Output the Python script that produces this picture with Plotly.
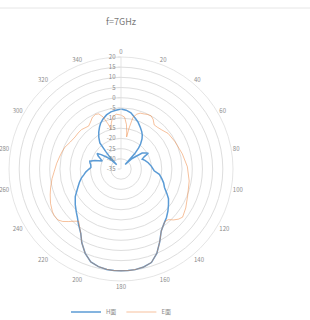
import plotly.graph_objects as go

# ---- data (degrees, dB) ----
angle_ticks = list(range(0, 360, 20))
radial_ticks = [20, 15, 10, 5, 0, -5, -10, -15, -20, -25, -30, -35]

h_theta = [0, 5, 10, 16, 20, 25, 29, 32, 35, 38, 40, 42, 43, 44, 46, 49, 53, 57, 60, 62, 65,
           70, 77, 85, 93, 98, 103, 108, 113, 118, 122, 127, 132, 137, 142, 147, 152, 157,
           162, 167, 172, 176, 180, 184, 188, 193, 198, 203, 208, 212, 218, 222, 226, 232,
           239, 247, 252, 257, 261, 265, 269, 273, 278, 281, 284, 288, 293, 297, 300, 303,
           306, 310, 313, 315, 317, 319, 321, 325, 329, 333, 336, 340, 345, 350, 355, 360]
h_vals = [-5.5, -6, -7, -9.2, -10.5, -12.5, -14, -15.3, -17, -19.4, -21.5, -25, -32, -31, -28,
          -26, -22, -20.5, -19.5, -22, -23.5, -22.5, -21.3, -20, -18.7, -16, -14.5, -13, -11.8,
          -9.5, -7.5, -5.8, -4, -2.3, -0.8, 1.3, 5.5, 10, 13.3, 14.4, 14.9, 15, 15, 15, 14.8,
          14.2, 13, 10, 6, 2.3, -1, -3, -4.5, -6.5, -8.8, -12, -13.5, -15, -16.5, -17.6, -19,
          -20.2, -20, -19.5, -19.2, -21.5, -25, -23.5, -22, -21, -23, -26, -29, -32, -27,
          -23.5, -18.5, -16, -13.8, -11.8, -10.4, -9, -7.5, -6.5, -6, -5.5]

e_theta = [0, 4, 7, 9, 10, 11, 13, 16, 19, 22.5, 26, 29.5, 33, 37, 41, 46, 53, 63, 76, 88, 100,
           112, 121, 128, 131, 134, 137, 140, 142, 147, 152, 157, 162, 167, 172, 176, 180, 184,
           188, 193, 198, 203, 208, 212, 216, 219, 222, 225, 228, 231, 235, 238, 244, 250, 255,
           262, 268, 275, 281, 286, 291, 298, 305, 310, 315, 320, 323, 327, 331, 335, 338, 341,
           344, 346, 348, 351, 355, 360]
e_vals = [-8.5, -9.5, -13, -17, -19, -15, -9, -7, -6, -5.7, -5.2, -5, -6, -7.9, -7.8, -7.3, -6,
          -5.3, -4, -2.4, -1, 0.3, 2.1, 3.4, 2.5, 1, -1, -1.4, -0.8, 1.3, 5.5, 10, 13.3, 14.4,
          14.9, 15, 15, 15, 14.8, 14.2, 13, 10, 6, 2.3, -0.3, -2, -0.5, 1.5, 3.5, 4.8, 5, 4.7,
          3.5, 2, 0.8, -0.8, -2.2, -3.3, -4.2, -4.8, -5.4, -6.8, -7.5, -7.5, -7.6, -8.3, -8.6,
          -7.5, -6, -5.4, -5.8, -8, -12, -15, -12, -9, -8, -8.5]

series_names = ["H面", "E面"]
title_text = "f=7GHz"

FONT = "Noto Sans CJK SC, Noto Sans, sans-serif"
GRID = "#dedede"
TXT = "#8c8c8c"

fig = go.Figure()
fig.add_trace(go.Scatterpolar(r=h_vals, theta=h_theta, mode="lines", name=series_names[0],
                              line=dict(color="#5b9bd5", width=1.5)))
fig.add_trace(go.Scatterpolar(r=e_vals, theta=e_theta, mode="lines", name=series_names[1],
                              line=dict(color="rgba(237,125,49,0.6)", width=0.8)))

CX, CY, RAD = 121, 169, 112  # px in a 310x320 figure
fig.update_layout(
    width=310, height=320,
    margin=dict(l=0, r=0, t=0, b=0, autoexpand=False),
    paper_bgcolor="white",
    font=dict(family=FONT, size=6, color=TXT),
    title=dict(text=title_text, x=CX / 310, xanchor="center", y=1 - 22 / 320, yanchor="middle",
               font=dict(family=FONT, size=9, color="#7a7a7a")),
    showlegend=True,
    legend=dict(orientation="h", x=CX / 310, xanchor="center", y=1 - 312 / 320, yanchor="middle",
                font=dict(family=FONT, size=6, color=TXT), itemwidth=30,
                bgcolor="rgba(0,0,0,0)"),
    polar=dict(
        domain=dict(x=[(CX - RAD) / 310, (CX + RAD) / 310],
                    y=[(320 - CY - RAD) / 320, (320 - CY + RAD) / 320]),
        bgcolor="white",
        radialaxis=dict(range=[-35, 20], tickvals=radial_ticks,
                        ticktext=[str(v) for v in radial_ticks],
                        angle=90, side="counterclockwise", tickangle=90,
                        showgrid=True, gridcolor=GRID, gridwidth=0.8,
                        showline=True, linecolor=GRID, linewidth=0.8,
                        ticks="outside", ticklen=3, tickcolor=GRID,
                        tickfont=dict(family=FONT, size=6, color=TXT)),
        angularaxis=dict(rotation=90, direction="clockwise", tickmode="array",
                         tickvals=angle_ticks, ticktext=[str(a) for a in angle_ticks],
                         showgrid=False, showline=True, linecolor=GRID, linewidth=0.8,
                         ticks="", tickfont=dict(family=FONT, size=6, color=TXT)),
    ),
    shapes=[dict(type="line", xref="paper", yref="paper", x0=0, x1=1,
                 y0=1 - 8 / 320, y1=1 - 8 / 320, line=dict(color="#e6e6e6", width=1))],
)

fig.write_html("out.html", config={"displayModeBar": False},
               post_script="document.body.style.margin='0';")
